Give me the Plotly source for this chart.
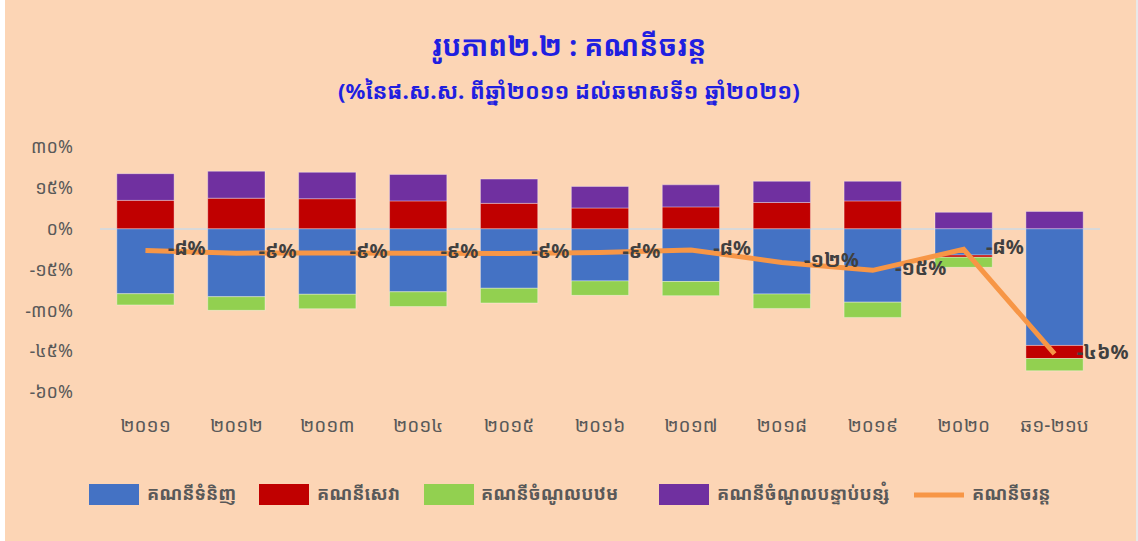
import plotly.graph_objects as go

# ---------------- data ----------------
categories = ["២០១១", "២០១២", "២០១៣", "២០១៤", "២០១៥", "២០១៦",
              "២០១៧", "២០១៨", "២០១៩", "២០២០", "ឆ១-២១ប"]
goods = [-23.9, -25.0, -24.1, -23.2, -21.9, -19.2, -19.4, -24.0, -27.0, -9.7, -42.9]
services = [10.4, 11.2, 11.0, 10.2, 9.3, 7.6, 8.0, 9.6, 10.2, -0.8, -4.8]
primary_income = [-4.1, -5.0, -5.3, -5.4, -5.4, -5.3, -5.2, -5.3, -5.6, -3.7, -4.5]
secondary_income = [9.8, 9.9, 9.7, 9.7, 8.9, 7.9, 8.1, 7.8, 7.2, 6.0, 6.3]
current_account = [-8.0, -9.0, -8.9, -9.1, -9.1, -8.8, -7.8, -12.4, -15.3, -7.6, -46.0]

series_names = ["គណនីទំនិញ", "គណនីសេវា", "គណនីចំណូលបឋម",
                "គណនីចំណូលបន្ទាប់បន្សំ", "គណនីចរន្ត"]
y_tickvals = [30, 15, 0, -15, -30, -45, -60]

title_text = "រូបភាព២.២ : គណនីចរន្ត"
subtitle_text = "(%នៃផ.ស.ស. ពីឆ្នាំ២០១១ ដល់ឆមាសទី១ ឆ្នាំ២០២១)"

# ---------------- helpers ----------------
KH = str.maketrans("0123456789", "០១២៣៤៥៦៧៨៩")


def kh_pct(v):
    return f"{round(v):d}%".translate(KH)


colors = ["#4472C4", "#C00000", "#92D050", "#7030A0", "#F79646"]
BG = "#FCD5B5"
FONT = "Noto Sans Khmer, Khmer OS, Khmer OS System, Noto Sans, sans-serif"

W, H = 1138, 541
L, R, T, B = 100, 38, 147, 149


def px_x(p):
    return (p - L) / (W - L - R)


def px_y(p):
    return (H - B - p) / (H - T - B)


fig = go.Figure()
bar_series = [goods, services, primary_income, secondary_income]
for name, vals, col in zip(series_names[:4], bar_series, colors[:4]):
    fig.add_trace(go.Bar(
        x=categories, y=vals, name=name, marker_color=col,
        marker_line=dict(color="rgba(255,255,255,0.35)", width=1),
        showlegend=False,
    ))

fig.add_trace(go.Scatter(
    x=categories, y=current_account, name=series_names[4],
    mode="lines+markers+text",
    line=dict(color=colors[4], width=5),
    marker=dict(size=34, color="rgba(0,0,0,0)"),
    text=[kh_pct(v) for v in current_account],
    textposition="middle right",
    textfont=dict(family=FONT, size=20, color="#404040", weight="bold"),
    showlegend=False,
    cliponaxis=False,
))

shapes = [
    dict(type="rect", xref="paper", yref="paper",
         x0=px_x(0), x1=px_x(5), y0=px_y(541), y1=px_y(0),
         fillcolor="white", line_width=0, layer="below"),
    dict(type="rect", xref="paper", yref="paper",
         x0=px_x(1136), x1=px_x(1138), y0=px_y(541), y1=px_y(0),
         fillcolor="#E8E8E8", line_width=0, layer="below"),
]
annotations = [
    dict(text=f"<b>{title_text}</b>", x=px_x(569), y=px_y(45), xref="paper", yref="paper",
         xanchor="center", yanchor="middle", showarrow=False,
         font=dict(family=FONT, size=28, color="#1F1FE0")),
    dict(text=f"<b>{subtitle_text}</b>", x=px_x(569), y=px_y(90), xref="paper", yref="paper",
         xanchor="center", yanchor="middle", showarrow=False,
         font=dict(family=FONT, size=22, color="#1F1FE0")),
]

# custom legend (big boxes like the original)
legend_box_x = [89, 259, 424, 659]
legend_text_x = [145, 315, 479, 715]
for bx, tx, name, col in zip(legend_box_x, legend_text_x, series_names[:4], colors[:4]):
    shapes.append(dict(type="rect", xref="paper", yref="paper",
                       x0=px_x(bx), x1=px_x(bx + 50), y0=px_y(505), y1=px_y(484),
                       fillcolor=col, line_width=0))
    annotations.append(dict(text=f"<b>{name}</b>", x=px_x(tx), y=px_y(493),
                            xref="paper", yref="paper", xanchor="left", yanchor="middle",
                            showarrow=False, font=dict(family=FONT, size=18, color="#595959")))
shapes.append(dict(type="line", xref="paper", yref="paper",
                   x0=px_x(914), x1=px_x(964), y0=px_y(495), y1=px_y(495),
                   line=dict(color=colors[4], width=5)))
annotations.append(dict(text=f"<b>{series_names[4]}</b>", x=px_x(970), y=px_y(493),
                        xref="paper", yref="paper", xanchor="left", yanchor="middle",
                        showarrow=False, font=dict(family=FONT, size=18, color="#595959")))

fig.update_layout(
    width=W, height=H,
    margin=dict(l=L, r=R, t=T, b=B),
    paper_bgcolor=BG, plot_bgcolor=BG,
    barmode="relative", bargap=0.37,
    showlegend=False,
    shapes=shapes, annotations=annotations,
    font=dict(family=FONT, color="#595959"),
    xaxis=dict(range=[-0.5, len(categories) - 0.5],
               showgrid=False, showline=False, zeroline=False,
               ticks="", ticklabelstandoff=20,
               tickfont=dict(family=FONT, size=19, color="#595959")),
    yaxis=dict(range=[-60, 30], tickvals=y_tickvals,
               ticktext=[kh_pct(v) for v in y_tickvals],
               showgrid=False, showline=False,
               zeroline=True, zerolinecolor="#D9D9D9", zerolinewidth=2,
               ticks="", ticklabelstandoff=26,
               tickfont=dict(family=FONT, size=18, color="#595959")),
)

fig.write_html("out.html", config={"displayModeBar": False},
               post_script="document.body.style.margin='0';")
